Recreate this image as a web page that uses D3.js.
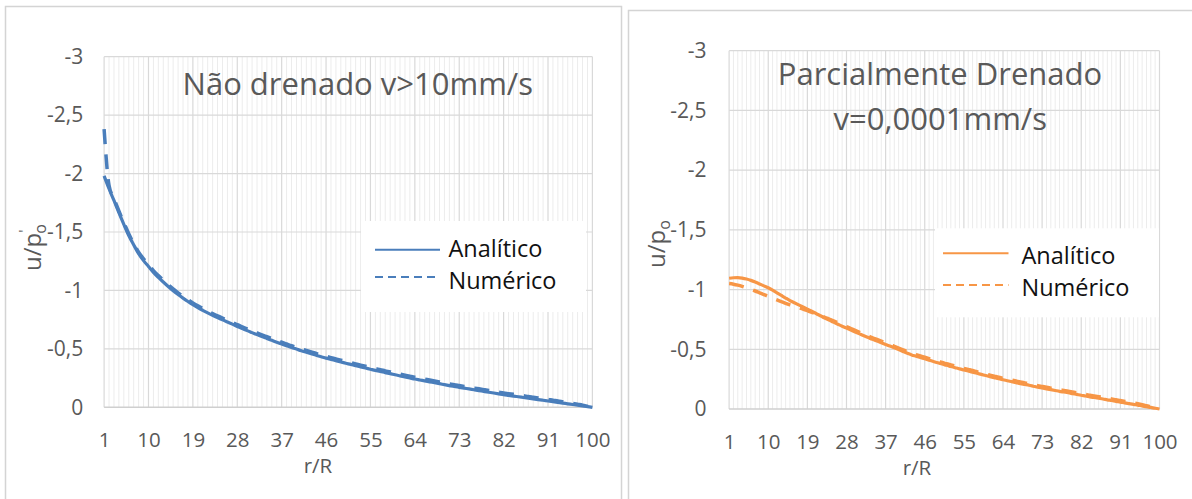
<!DOCTYPE html>
<html>
<head>
<meta charset="utf-8">
<script src="https://cdn.jsdelivr.net/npm/d3@7"></script>
<style>
  html, body { margin: 0; padding: 0; background: #fff; }
  svg { display: block; font-family: "Open Sans", sans-serif; }
</style>
</head>
<body>
<svg id="chart" width="1192" height="499"></svg>
<script>
// r/R categories along the horizontal axis
const categories = d3.range(1, 101);
const xTickLabels = [1, 10, 19, 28, 37, 46, 55, 64, 73, 82, 91, 100];
const yTickValues = [0, -0.5, -1, -1.5, -2, -2.5, -3];
const seriesNames = ["Analítico", "Numérico"];

// Não drenado (v > 10 mm/s)
const naoDrenadoAnalitico = [
  -1.98, -1.87, -1.77, -1.665, -1.565, -1.47, -1.39, -1.315, -1.255, -1.205,
  -1.155, -1.112, -1.072, -1.034, -0.998, -0.965, -0.934, -0.905, -0.878, -0.853,
  -0.83, -0.808, -0.787, -0.767, -0.748, -0.73, -0.712, -0.692, -0.674, -0.656,
  -0.639, -0.622, -0.605, -0.589, -0.573, -0.557, -0.542, -0.527, -0.512, -0.498,
  -0.484, -0.471, -0.458, -0.445, -0.433, -0.421, -0.41, -0.399, -0.388, -0.377,
  -0.367, -0.356, -0.346, -0.336, -0.326, -0.316, -0.307, -0.297, -0.288, -0.278,
  -0.269, -0.26, -0.251, -0.242, -0.234, -0.226, -0.218, -0.21, -0.202, -0.194,
  -0.186, -0.178, -0.171, -0.164, -0.157, -0.15, -0.143, -0.136, -0.129, -0.122,
  -0.115, -0.108, -0.102, -0.096, -0.09, -0.084, -0.078, -0.072, -0.066, -0.06,
  -0.054, -0.048, -0.042, -0.036, -0.03, -0.024, -0.018, -0.012, -0.006, 0
];
const naoDrenadoNumerico = [
  -2.38, -1.9, -1.785, -1.68, -1.58, -1.485, -1.402, -1.328, -1.27, -1.22,
  -1.17, -1.127, -1.087, -1.049, -1.013, -0.98, -0.949, -0.92, -0.893, -0.868,
  -0.845, -0.823, -0.802, -0.782, -0.763, -0.745, -0.727, -0.707, -0.689, -0.671,
  -0.654, -0.637, -0.62, -0.604, -0.588, -0.572, -0.557, -0.542, -0.527, -0.513,
  -0.499, -0.486, -0.473, -0.46, -0.448, -0.436, -0.425, -0.414, -0.403, -0.392,
  -0.382, -0.371, -0.361, -0.351, -0.341, -0.331, -0.322, -0.312, -0.303, -0.293,
  -0.284, -0.275, -0.266, -0.257, -0.249, -0.241, -0.233, -0.225, -0.217, -0.209,
  -0.201, -0.193, -0.186, -0.179, -0.172, -0.165, -0.158, -0.151, -0.144, -0.137,
  -0.13, -0.123, -0.117, -0.111, -0.105, -0.099, -0.092, -0.086, -0.08, -0.074,
  -0.068, -0.061, -0.055, -0.048, -0.041, -0.034, -0.026, -0.018, -0.009, 0
];

// Parcialmente drenado (v = 0,0001 mm/s)
const parcialAnalitico = [
  -1.095, -1.099, -1.1, -1.096, -1.088, -1.077, -1.063, -1.047, -1.031, -1.015,
  -0.995, -0.973, -0.951, -0.929, -0.908, -0.89, -0.872, -0.854, -0.836, -0.818,
  -0.8, -0.781, -0.762, -0.744, -0.727, -0.71, -0.693, -0.677, -0.661, -0.645,
  -0.629, -0.613, -0.598, -0.583, -0.569, -0.555, -0.541, -0.527, -0.512, -0.497,
  -0.482, -0.467, -0.453, -0.442, -0.431, -0.42, -0.409, -0.398, -0.387, -0.377,
  -0.366, -0.356, -0.346, -0.336, -0.327, -0.318, -0.309, -0.299, -0.29, -0.28,
  -0.271, -0.262, -0.253, -0.245, -0.237, -0.229, -0.221, -0.213, -0.206, -0.199,
  -0.191, -0.183, -0.176, -0.169, -0.162, -0.155, -0.148, -0.142, -0.136, -0.129,
  -0.122, -0.115, -0.109, -0.102, -0.096, -0.09, -0.084, -0.077, -0.071, -0.064,
  -0.058, -0.051, -0.045, -0.039, -0.032, -0.026, -0.019, -0.013, -0.006, 0
];
const parcialNumerico = [
  -1.05, -1.045, -1.037, -1.027, -1.015, -1.002, -0.988, -0.973, -0.958, -0.943,
  -0.928, -0.913, -0.899, -0.885, -0.872, -0.86, -0.848, -0.836, -0.823, -0.81,
  -0.796, -0.782, -0.768, -0.753, -0.738, -0.722, -0.706, -0.69, -0.674, -0.658,
  -0.642, -0.626, -0.611, -0.596, -0.582, -0.568, -0.554, -0.54, -0.525, -0.51,
  -0.495, -0.48, -0.466, -0.455, -0.444, -0.433, -0.422, -0.411, -0.4, -0.39,
  -0.379, -0.369, -0.359, -0.349, -0.34, -0.331, -0.322, -0.312, -0.303, -0.293,
  -0.284, -0.275, -0.266, -0.258, -0.25, -0.242, -0.234, -0.226, -0.219, -0.212,
  -0.204, -0.196, -0.189, -0.182, -0.175, -0.168, -0.161, -0.155, -0.149, -0.142,
  -0.135, -0.128, -0.122, -0.115, -0.109, -0.103, -0.097, -0.09, -0.084, -0.077,
  -0.071, -0.064, -0.058, -0.051, -0.044, -0.036, -0.027, -0.018, -0.009, 0
];

// Portuguese number format: decimal comma
const ptFormat = d3.formatLocale({
  decimal: ",", thousands: ".", grouping: [3], currency: ["", ""], minus: "-"
}).format("~g");

const svg = d3.select("#chart");
const AXIS_GRAY = "#595959";
const FONT = "'Open Sans', sans-serif";

const panels = [
  {
    frame: { x: 5.5, y: 6.5, w: 616, h: 540 },
    plot: { left: 104.1, right: 592.4, top: 56.7, bottom: 407.3 },
    yLabelX: 83.3,
    xLabelY: 446.5,
    xTitle: { x: 318, y: 472.5 },
    yTitle: { x: 40.5, y: 271, prime: true },
    titles: [{ text: "Não drenado v>10mm/s", x: 357.8, y: 95 }],
    legend: { x: 361, y: 221, w: 225, h: 91, lx1: 375, lx2: 440, tx: 448.5,
              rows: [{ ly: 249.8, ty: 257 }, { ly: 277, ty: 289 }] },
    color: "#4A7EBB",
    series: [naoDrenadoAnalitico, naoDrenadoNumerico]
  },
  {
    frame: { x: 628.5, y: 10.5, w: 600, h: 540 },
    plot: { left: 729.1, right: 1159.5, top: 50.7, bottom: 409 },
    yLabelX: 706.5,
    xLabelY: 448.6,
    xTitle: { x: 917, y: 474.5 },
    yTitle: { x: 665, y: 268, prime: false },
    titles: [
      { text: "Parcialmente Drenado", x: 940, y: 85 },
      { text: "v=0,0001mm/s", x: 940.3, y: 130 }
    ],
    legend: { x: 935, y: 228.3, w: 224, h: 89, lx1: 943, lx2: 1008.5, tx: 1021.5,
              rows: [{ ly: 253.3, ty: 263.5 }, { ly: 285, ty: 295.5 }] },
    color: "#F79646",
    series: [parcialAnalitico, parcialNumerico]
  }
];

panels.forEach(p => {
  const g = svg.append("g");

  // panel frame
  g.append("rect")
    .attr("x", p.frame.x).attr("y", p.frame.y)
    .attr("width", p.frame.w).attr("height", p.frame.h)
    .attr("fill", "#fff").attr("stroke", "#d4d4d4").attr("stroke-width", 1.5);

  const x = d3.scalePoint().domain(categories).range([p.plot.left, p.plot.right]);
  const y = d3.scaleLinear().domain([0, -3]).range([p.plot.bottom, p.plot.top]);

  // minor vertical gridlines (every category)
  g.append("g").selectAll("line")
    .data(categories.filter(c => !xTickLabels.includes(c)))
    .join("line")
    .attr("x1", d => x(d)).attr("x2", d => x(d))
    .attr("y1", p.plot.top).attr("y2", p.plot.bottom)
    .attr("stroke", "#ececec").attr("stroke-width", 1);

  // major vertical gridlines
  g.append("g").selectAll("line")
    .data(xTickLabels)
    .join("line")
    .attr("x1", d => x(d)).attr("x2", d => x(d))
    .attr("y1", p.plot.top).attr("y2", p.plot.bottom)
    .attr("stroke", "#d9d9d9").attr("stroke-width", 1.2);

  // horizontal gridlines
  g.append("g").selectAll("line")
    .data(yTickValues)
    .join("line")
    .attr("x1", p.plot.left).attr("x2", p.plot.right)
    .attr("y1", d => y(d)).attr("y2", d => y(d))
    .attr("stroke", d => d === 0 ? "#cfcfcf" : "#d9d9d9")
    .attr("stroke-width", d => d === 0 ? 1.5 : 1.2);

  // y axis labels
  const yAxis = d3.axisLeft(y).tickValues(yTickValues).tickFormat(ptFormat).tickSize(0).tickPadding(0);
  const ya = g.append("g")
    .attr("transform", `translate(${p.yLabelX},0)`)
    .call(yAxis)
    .attr("font-family", FONT).attr("font-size", 21);
  ya.select(".domain").remove();
  ya.selectAll("text").attr("fill", AXIS_GRAY);

  // x axis labels
  const xAxis = d3.axisBottom(x).tickValues(xTickLabels).tickSize(0).tickPadding(0);
  const xa = g.append("g")
    .attr("transform", `translate(0,${p.xLabelY})`)
    .call(xAxis)
    .attr("font-family", FONT).attr("font-size", 20.5);
  xa.select(".domain").remove();
  xa.selectAll("text").attr("fill", AXIS_GRAY).attr("dy", 0);

  // axis titles
  g.append("text")
    .attr("x", p.xTitle.x).attr("y", p.xTitle.y)
    .attr("text-anchor", "middle")
    .attr("fill", AXIS_GRAY).attr("font-size", 20.5)
    .text("r/R");

  const yt = g.append("text")
    .attr("transform", `translate(${p.yTitle.x},${p.yTitle.y}) rotate(-90)`)
    .attr("fill", AXIS_GRAY).attr("font-size", 24);
  yt.append("tspan").text("u/p");
  if (p.yTitle.prime) {
    yt.append("tspan").attr("font-size", 14).attr("dy", -12).text("'");
    yt.append("tspan").attr("font-size", 16).attr("dx", -4).attr("dy", 17).text("o");
  } else {
    yt.append("tspan").attr("font-size", 16).attr("dy", 5).text("o");
  }

  // chart title
  p.titles.forEach(t => {
    g.append("text")
      .attr("x", t.x).attr("y", t.y)
      .attr("text-anchor", "middle")
      .attr("fill", AXIS_GRAY).attr("font-size", 31)
      .text(t.text);
  });

  // series lines
  const line = d3.line()
    .x((d, i) => x(categories[i]))
    .y(d => y(d))
    .curve(d3.curveMonotoneX);

  g.append("path")
    .datum(p.series[0])
    .attr("d", line)
    .attr("fill", "none")
    .attr("stroke", p.color).attr("stroke-width", 3.2)
    .attr("stroke-linejoin", "round");

  g.append("path")
    .datum(p.series[1])
    .attr("d", line)
    .attr("fill", "none")
    .attr("stroke", p.color).attr("stroke-width", 3.5)
    .attr("stroke-dasharray", "15,10");

  // legend
  const L = p.legend;
  const lg = g.append("g");
  lg.append("rect")
    .attr("x", L.x).attr("y", L.y).attr("width", L.w).attr("height", L.h)
    .attr("fill", "#fff");
  seriesNames.forEach((name, i) => {
    const r = L.rows[i];
    lg.append("line")
      .attr("x1", L.lx1).attr("x2", L.lx2)
      .attr("y1", r.ly).attr("y2", r.ly)
      .attr("stroke", p.color).attr("stroke-width", 2)
      .attr("stroke-dasharray", i === 1 ? "8,5" : null);
    lg.append("text")
      .attr("x", L.tx).attr("y", r.ty)
      .attr("fill", "#111").attr("font-size", 23.5)
      .text(name);
  });
});
</script>
</body>
</html>
